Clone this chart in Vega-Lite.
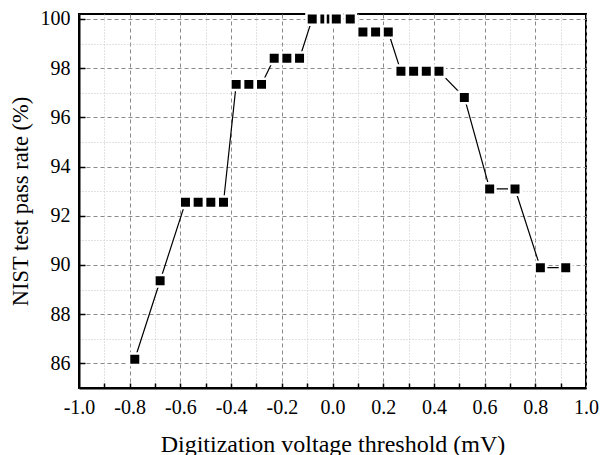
{
  "$schema": "https://vega.github.io/schema/vega-lite/v6.json",
  "autosize": "none",
  "padding": {"left": 79, "top": 14, "right": 16, "bottom": 67},
  "width": 507,
  "height": 374,
  "background": "white",
  "config": {
    "view": {"stroke": "black", "strokeWidth": 2},
    "font": "Liberation Serif",
    "axis": {
      "labelFont": "Liberation Serif",
      "titleFont": "Liberation Serif",
      "labelFontSize": 20,
      "titleFontSize": 22,
      "titleFontWeight": "normal",
      "labelColor": "black",
      "titleColor": "black",
      "domainColor": "black",
      "domainWidth": 2,
      "tickColor": "black",
      "tickWidth": 1.5
    }
  },
  "data": {
    "values": [
      {"threshold": -0.78, "rate": 86.17},
      {"threshold": -0.68, "rate": 89.36},
      {"threshold": -0.58, "rate": 92.55},
      {"threshold": -0.53, "rate": 92.55},
      {"threshold": -0.48, "rate": 92.55},
      {"threshold": -0.43, "rate": 92.55},
      {"threshold": -0.38, "rate": 97.34},
      {"threshold": -0.33, "rate": 97.34},
      {"threshold": -0.28, "rate": 97.34},
      {"threshold": -0.23, "rate": 98.40},
      {"threshold": -0.18, "rate": 98.40},
      {"threshold": -0.13, "rate": 98.40},
      {"threshold": -0.08, "rate": 100},
      {"threshold": -0.03, "rate": 100},
      {"threshold": -0.005, "rate": 100},
      {"threshold": 0.015, "rate": 100},
      {"threshold": 0.07, "rate": 100},
      {"threshold": 0.12, "rate": 99.47},
      {"threshold": 0.17, "rate": 99.47},
      {"threshold": 0.22, "rate": 99.47},
      {"threshold": 0.27, "rate": 97.87},
      {"threshold": 0.32, "rate": 97.87},
      {"threshold": 0.37, "rate": 97.87},
      {"threshold": 0.42, "rate": 97.87},
      {"threshold": 0.52, "rate": 96.81},
      {"threshold": 0.62, "rate": 93.09},
      {"threshold": 0.72, "rate": 93.09},
      {"threshold": 0.82, "rate": 89.89},
      {"threshold": 0.92, "rate": 89.89}
    ]
  },
  "resolve": {"axis": {"x": "independent", "y": "independent"}},
  "layer": [
    {
      "mark": {"type": "line", "color": "black", "strokeWidth": 1.2},
      "encoding": {
        "x": {
          "field": "threshold",
          "type": "quantitative",
          "scale": {"domain": [-1, 1], "nice": false, "zero": false},
          "axis": {
            "orient": "bottom",
            "title": "Digitization voltage threshold (mV)",
            "labelFont": "Liberation Serif",
            "titleFont": "Liberation Serif",
            "labelFontSize": 20,
            "titleFontSize": 24,
            "labelFlush": false,
            "labelOverlap": false,
            "values": [-1, -0.9, -0.8, -0.7, -0.6, -0.5, -0.4, -0.3, -0.2, -0.1, 0, 0.1, 0.2, 0.3, 0.4, 0.5, 0.6, 0.7, 0.8, 0.9, 1],
            "labelExpr": "round(datum.value*10)%2==0 ? (datum.value < -0.001 ? '-' : '') + format(abs(datum.value), '.1f') : ''",
            "ticks": false,
            "labelPadding": 9,
            "titlePadding": 15,
            "grid": true,
            "gridColor": {"condition": {"test": "round(datum.value*10)%2==0", "value": "#8a8a8a"}, "value": "#c4c4c4"},
            "gridDash": {"condition": {"test": "round(datum.value*10)%2==0", "value": [4, 3]}, "value": [1, 2]},
            "gridWidth": 1
          }
        },
        "y": {
          "field": "rate",
          "type": "quantitative",
          "scale": {"domain": [85, 100.2], "nice": false, "zero": false},
          "axis": {
            "orient": "left",
            "title": "NIST test pass rate (%)",
            "labelFont": "Liberation Serif",
            "titleFont": "Liberation Serif",
            "labelFontSize": 20,
            "titleFontSize": 22.5,
            "labelFlush": false,
            "labelOverlap": false,
            "values": [85, 86, 87, 88, 89, 90, 91, 92, 93, 94, 95, 96, 97, 98, 99, 100],
            "labelExpr": "round(datum.value)%2==0 ? format(datum.value, 'd') : ''",
            "ticks": false,
            "labelPadding": 9,
            "titlePadding": 8,
            "grid": true,
            "gridColor": {"condition": {"test": "round(datum.value)%2==0", "value": "#8a8a8a"}, "value": "#c4c4c4"},
            "gridDash": {"condition": {"test": "round(datum.value)%2==0", "value": [4, 3]}, "value": [1, 2]},
            "gridWidth": 1
          }
        }
      }
    },
    {
      "mark": {"type": "point", "shape": "square", "filled": true, "size": 132, "fill": "black", "stroke": "white", "strokeWidth": 2.5, "opacity": 1},
      "encoding": {
        "x": {
          "field": "threshold",
          "type": "quantitative",
          "axis": {
            "orient": "top",
            "offset": -374,
            "title": null,
            "labels": false,
            "domain": false,
            "grid": false,
            "ticks": true,
            "tickSize": 5,
            "values": [-0.9, -0.8, -0.7, -0.6, -0.5, -0.4, -0.3, -0.2, -0.1, 0, 0.1, 0.2, 0.3, 0.4, 0.5, 0.6, 0.7, 0.8, 0.9]
          }
        },
        "y": {
          "field": "rate",
          "type": "quantitative",
          "axis": {
            "orient": "right",
            "offset": -507,
            "title": null,
            "labels": false,
            "domain": false,
            "grid": false,
            "ticks": true,
            "tickSize": 6,
            "values": [86, 88, 90, 92, 94, 96, 98, 100]
          }
        }
      }
    }
  ]
}
